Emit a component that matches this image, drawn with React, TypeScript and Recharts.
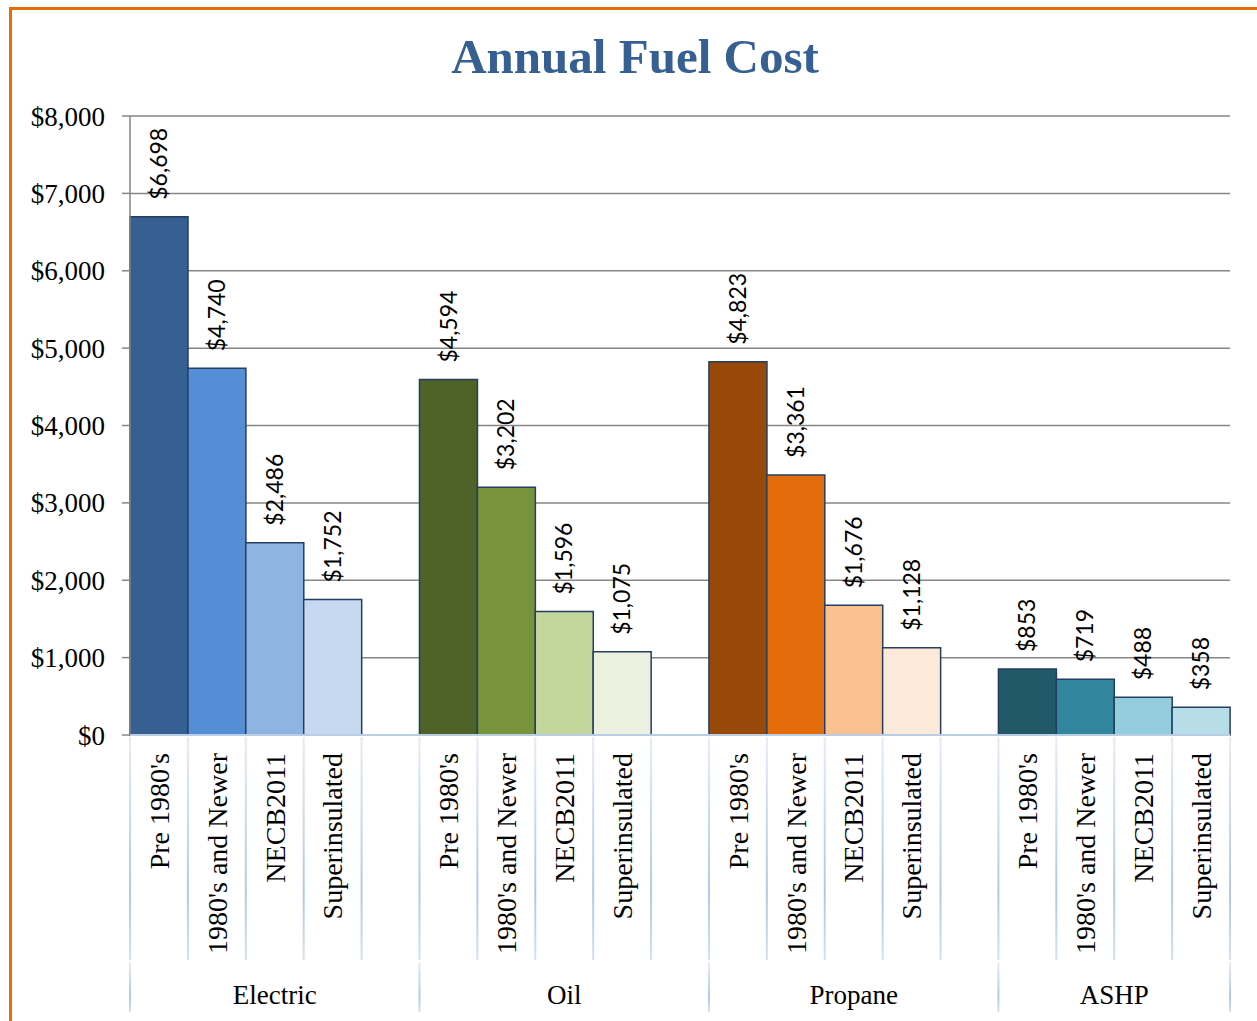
import React from 'react';
import { BarChart, Bar, XAxis, YAxis, CartesianGrid, Cell, LabelList } from 'recharts';

const groups = ['Electric', 'Oil', 'Propane', 'ASHP'];
const subLabels = ["Pre 1980's", "1980's and Newer", 'NECB2011', 'Superinsulated'];

const electric = [6698, 4740, 2486, 1752];
const oil = [4594, 3202, 1596, 1075];
const propane = [4823, 3361, 1676, 1128];
const ashp = [853, 719, 488, 358];

const electricColors = ['#376092', '#558ed5', '#8eb4e3', '#c6d9f1'];
const oilColors = ['#4f6228', '#77933c', '#c3d69b', '#ebf1de'];
const propaneColors = ['#984807', '#e46c0a', '#fac090', '#fde9d9'];
const ashpColors = ['#215968', '#31859c', '#93cddd', '#b7dee8'];

const yTicks = [0, 1000, 2000, 3000, 4000, 5000, 6000, 7000, 8000];

const serif = '"Liberation Serif", "Times New Roman", serif';
const sans = 'Lato, "Open Sans", sans-serif';

type Row = {
  key: string;
  name: string;
  group: string;
  value: number | null;
  color: string;
  first: boolean;
  last: boolean;
  groupSize: number;
};

// one slot per bar, plus an empty slot after each group except the last
const buildRows = (): Row[] => {
  const values = [electric, oil, propane, ashp];
  const colors = [electricColors, oilColors, propaneColors, ashpColors];
  const out: Row[] = [];
  groups.forEach((g, gi) => {
    const hasGap = gi < groups.length - 1;
    const size = subLabels.length + (hasGap ? 1 : 0);
    subLabels.forEach((s, si) => {
      out.push({
        key: `${g}-${si}`,
        name: s,
        group: g,
        value: values[gi][si],
        color: colors[gi][si],
        first: si === 0,
        last: !hasGap && si === subLabels.length - 1,
        groupSize: size,
      });
    });
    if (hasGap) {
      out.push({ key: `${g}-gap`, name: '', group: g, value: null, color: '#fff', first: false, last: false, groupSize: size });
    }
  });
  return out;
};

const rows = buildRows();

const money = (v: number) => `$${v.toLocaleString('en-US')}`;

const CategoryTick = (props: any) => {
  const { x, y, payload, width, visibleTicksCount } = props;
  const row = rows[payload.index];
  if (!row) return null;
  const band = width / (visibleTicksCount || rows.length);
  const left = x - band / 2;
  const right = x + band / 2;
  const ty = y + 18;
  return (
    <g>
      {payload.index === 0 && (
        <defs>
          <linearGradient id="sepGrad" x1="0" y1="0" x2="0" y2="1">
            <stop offset="0%" stopColor="#e4ecf7" />
            <stop offset="70%" stopColor="#b3c8e4" />
            <stop offset="100%" stopColor="#d4e1f1" />
          </linearGradient>
        </defs>
      )}
      <rect x={left - 1} y={y + 2} width={2} height={223} fill="url(#sepGrad)" />
      {row.last && <rect x={right - 1} y={y + 2} width={2} height={223} fill="url(#sepGrad)" />}
      {row.first && <rect x={left - 1} y={y + 227} width={2} height={50} fill="url(#sepGrad)" />}
      {row.last && <rect x={right - 1} y={y + 227} width={2} height={50} fill="url(#sepGrad)" />}
      {row.name && (
        <text
          x={x}
          y={ty}
          transform={`rotate(-90, ${x}, ${ty})`}
          textAnchor="end"
          dy="0.35em"
          fill="#000"
          fontSize={28}
          fontFamily={serif}
        >
          {row.name}
        </text>
      )}
      {row.first && (
        <text
          x={left + (band * row.groupSize) / 2}
          y={y + 269}
          textAnchor="middle"
          fill="#000"
          fontSize={27}
          fontFamily={serif}
        >
          {row.group}
        </text>
      )}
    </g>
  );
};

const ValueLabel = (props: any) => {
  const { x, y, width, value } = props;
  if (value == null) return null;
  const cx = Number(x) + Number(width) / 2;
  const cy = Number(y) - 17;
  return (
    <text
      x={cx}
      y={cy}
      transform={`rotate(-90, ${cx}, ${cy})`}
      textAnchor="start"
      dy="0.35em"
      fill="#000"
      fontSize={23}
      fontFamily={sans}
    >
      {money(Number(value))}
    </text>
  );
};

export default function App() {
  return (
    <div style={{ position: 'absolute', left: 0, top: 0, width: 1257, height: 1021, background: '#fff', overflow: 'hidden' }}>
      <div
        style={{
          position: 'absolute',
          left: 9,
          top: 7,
          width: 1252,
          height: 1040,
          boxSizing: 'border-box',
          borderLeft: '3.5px solid #e46c0a',
          borderTop: '3.5px solid #e46c0a',
          borderRight: '1px solid #fbe5d6',
        }}
      />
      <div
        style={{
          position: 'absolute',
          left: 135,
          top: 32,
          width: 1000,
          textAlign: 'center',
          fontFamily: serif,
          fontWeight: 'bold',
          fontSize: 49,
          lineHeight: '49px',
          color: '#366092',
        }}
      >
        Annual Fuel Cost
      </div>
      <div style={{ position: 'absolute', left: 0, top: 0 }}>
        <BarChart
          width={1257}
          height={1021}
          data={rows}
          margin={{ top: 116, right: 27, left: 0, bottom: 0 }}
          barCategoryGap={0}
          barGap={0}
        >
          <CartesianGrid horizontal vertical={false} stroke="#868686" strokeWidth={1.5} />
          <XAxis
            dataKey="key"
            interval={0}
            height={286}
            tickSize={0}
            tickMargin={0}
            tickLine={false}
            axisLine={{ stroke: '#b9cde5', strokeWidth: 2 }}
            tick={<CategoryTick />}
          />
          <YAxis
            width={130}
            domain={[0, 8000]}
            ticks={yTicks}
            interval={0}
            tickSize={8}
            tickMargin={17}
            tickFormatter={money}
            axisLine={{ stroke: '#868686', strokeWidth: 1.5 }}
            tickLine={{ stroke: '#868686', strokeWidth: 1.5 }}
            tick={{ fill: '#000', fontSize: 27, fontFamily: serif }}
          />
          <Bar dataKey="value" isAnimationActive={false} stroke="#243f60" strokeWidth={1.5}>
            {rows.map((r) => (
              <Cell key={r.key} fill={r.color} stroke="#243f60" strokeWidth={1.5} />
            ))}
            <LabelList dataKey="value" content={<ValueLabel />} />
          </Bar>
        </BarChart>
      </div>
    </div>
  );
}
